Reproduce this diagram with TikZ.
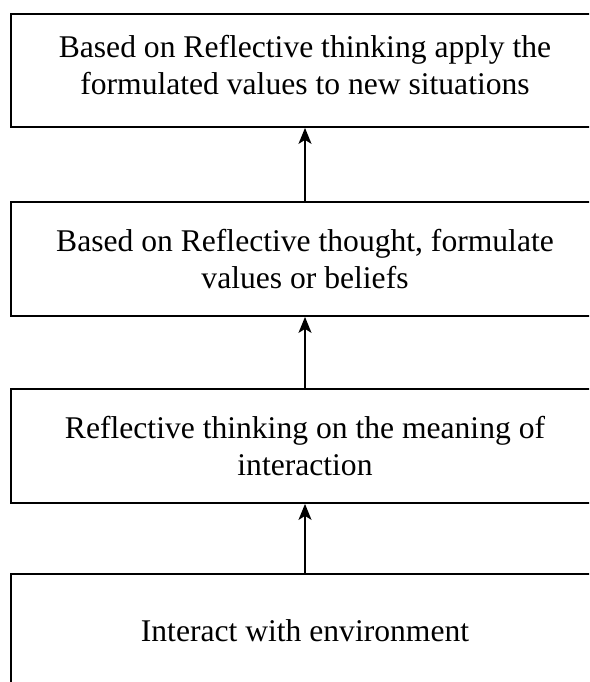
\documentclass[tikz,border=0pt]{standalone}
\usepackage{fontspec}
\setmainfont{Liberation Serif}
\usetikzlibrary{arrows.meta}
\begin{document}
\begin{tikzpicture}[x=1pt,y=-1pt,
  stagebox/.style={draw, line width=1.8pt, minimum width=588pt, inner sep=0pt,
    align=center, font=\fontsize{31.6}{36.8}\selectfont},
  flowarrow/.style={line width=1.5pt, -{Stealth[length=16pt,width=13pt,inset=4pt]}}]
  \clip (0,0) rectangle (589,682);
  \fill[white] (0,0) rectangle (589,682);
  \node[stagebox, minimum height=113pt, text depth=11pt] (apply) at (305,70.5)
    {Based on Reflective thinking apply the\\formulated values to new situations};
  \node[stagebox, minimum height=114pt] (formulate) at (305,259)
    {Based on Reflective thought, formulate\\values or beliefs};
  \node[stagebox, minimum height=114pt] (reflect) at (305,446)
    {Reflective thinking on the meaning of\\interaction};
  \node[stagebox, minimum height=114pt] (interact) at (305,631)
    {Interact with environment};
  \draw[flowarrow] (formulate.north) -- (apply.south);
  \draw[flowarrow] (reflect.north) -- (formulate.south);
  \draw[flowarrow] (interact.north) -- (reflect.south);
\end{tikzpicture}
\end{document}
